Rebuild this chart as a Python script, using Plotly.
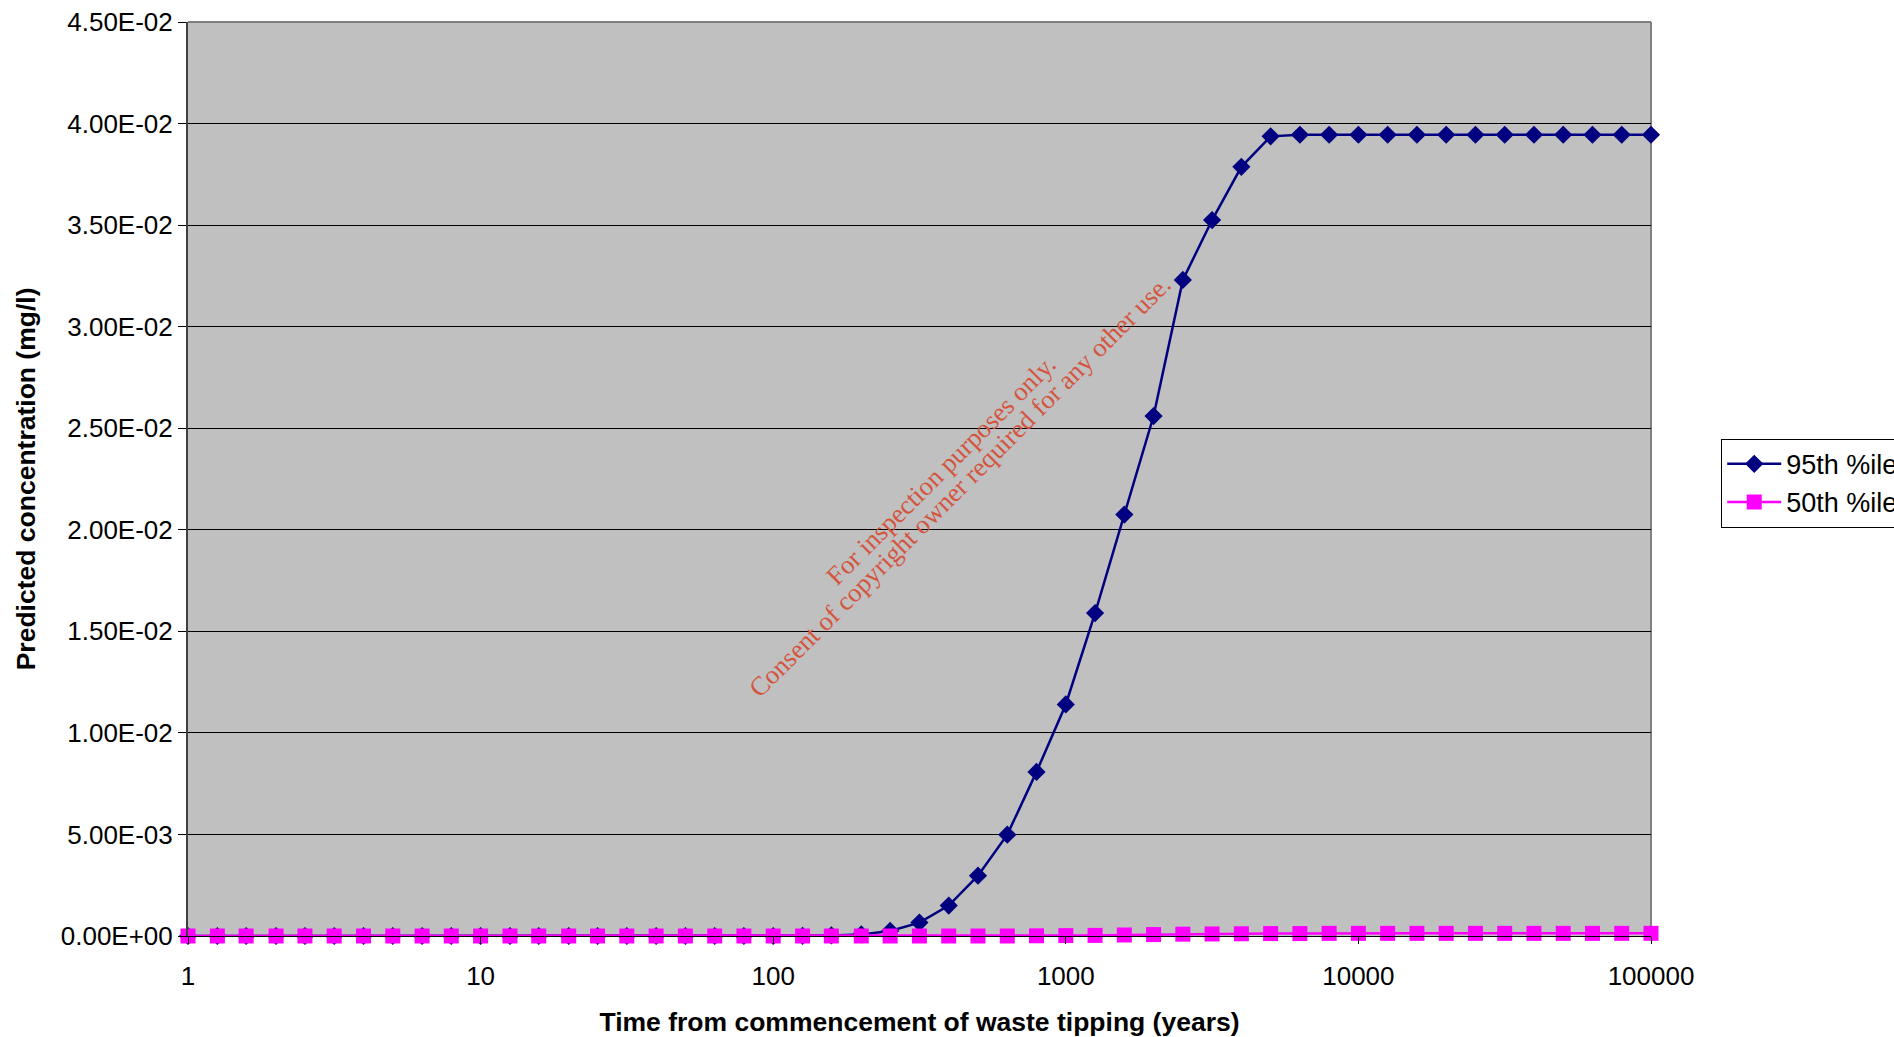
import plotly.graph_objects as go

# Time since commencement of waste tipping (years), log-spaced
years = [1, 1.26, 1.58, 2.0, 2.51, 3.16, 3.98, 5.01, 6.31, 7.94,
         10, 12.6, 15.8, 20.0, 25.1, 31.6, 39.8, 50.1, 63.1, 79.4,
         100, 126, 158, 200, 251, 316, 398, 501, 631, 794,
         1000, 1259, 1585, 1995, 2512, 3162, 3981, 5012, 6310, 7943,
         10000, 12589, 15849, 19953, 25119, 31623, 39811, 50119, 63096, 79433,
         100000]

# Predicted concentration (mg/l), 95th percentile
p95 = [0, 0, 0, 0, 0, 0, 0, 0, 0, 0,
       0, 0, 0, 0, 0, 0, 0, 0, 0, 0,
       0, 0.00001, 0.00003, 0.00008, 0.00025, 0.00066, 0.0015, 0.00297, 0.00499, 0.00808,
       0.0114, 0.0159, 0.02075, 0.0256, 0.0323, 0.03525, 0.03787, 0.03937, 0.03945, 0.03945,
       0.03945, 0.03945, 0.03945, 0.03945, 0.03945, 0.03945, 0.03945, 0.03945, 0.03945, 0.03945,
       0.03945]

# Predicted concentration (mg/l), 50th percentile
p50 = [0, 0, 0, 0, 0, 0, 0, 0, 0, 0,
       0, 0, 0, 0, 0, 0, 0, 0, 0, 0,
       0, 0, 0, 0, 0, 0, 0, 0, 0, 0.00001,
       0.00002, 0.00003, 0.00005, 0.00007, 0.00009, 0.0001, 0.00011, 0.00012, 0.00012, 0.00013,
       0.00013, 0.00013, 0.00013, 0.00013, 0.00013, 0.00013, 0.00013, 0.00013, 0.00013, 0.00013,
       0.00013]

x_ticks = [1, 10, 100, 1000, 10000, 100000]
x_tick_labels = ["1", "10", "100", "1000", "10000", "100000"]
y_ticks = [0, 0.005, 0.01, 0.015, 0.02, 0.025, 0.03, 0.035, 0.04, 0.045]
y_tick_labels = ["0.00E+00", "5.00E-03", "1.00E-02", "1.50E-02", "2.00E-02",
                 "2.50E-02", "3.00E-02", "3.50E-02", "4.00E-02", "4.50E-02"]

SANS = "Liberation Sans, Arial, sans-serif"
SERIF = "Liberation Serif, Times New Roman, serif"
NOTE_RED = "#D4553F"

fig = go.Figure()
fig.add_trace(go.Scatter(
    x=years, y=p95, name="95th %ile", mode="lines+markers",
    line=dict(color="#000080", width=2.5),
    marker=dict(symbol="diamond", size=14, color="#000080"),
    cliponaxis=False,
))
fig.add_trace(go.Scatter(
    x=years, y=p50, name="50th %ile", mode="lines+markers",
    line=dict(color="#FF00FF", width=2.5),
    marker=dict(symbol="square", size=15, color="#FF00FF"),
    cliponaxis=False,
))

fig.update_layout(
    width=1894, height=1037,
    margin=dict(l=188, r=243, t=22, b=101, autoexpand=False),
    paper_bgcolor="white",
    plot_bgcolor="#C0C0C0",
    font=dict(family=SANS, size=26, color="black"),
    showlegend=True,
    legend=dict(
        x=1.048, y=0.544, xanchor="left", yanchor="top",
        bgcolor="white", bordercolor="#000000", borderwidth=1,
        font=dict(family=SANS, size=27, color="black"),
        itemwidth=54, tracegroupgap=0,
    ),
    xaxis=dict(
        type="log", range=[0, 5],
        tickvals=x_ticks, ticktext=x_tick_labels,
        ticks="outside", ticklen=7, tickcolor="black",
        ticklabelstandoff=10,
        showgrid=False, zeroline=False,
        showline=True, linecolor="black", linewidth=1,
        tickfont=dict(family=SANS, size=26),
        title=dict(text="<b>Time from commencement of waste tipping (years)</b>",
                   font=dict(family=SANS, size=26.5), standoff=24),
    ),
    yaxis=dict(
        range=[0, 0.045],
        tickvals=y_ticks, ticktext=y_tick_labels,
        ticks="outside", ticklen=8, tickcolor="black",
        showgrid=True, gridcolor="black", gridwidth=1,
        zeroline=False,
        showline=True, linecolor="#404040", linewidth=2,
        tickfont=dict(family=SANS, size=26),
    ),
)

# y-axis title placed close to the page edge
fig.add_annotation(
    xref="paper", yref="paper", x=-0.1105, y=0.5,
    xanchor="center", yanchor="middle",
    text="<b>Predicted concentration (mg/l)</b>",
    textangle=-90, showarrow=False,
    font=dict(family=SANS, size=26.5, color="black"),
)

# plot-area frame (top and right edges)
fig.add_shape(type="line", xref="paper", yref="paper", x0=0, x1=1, y0=1, y1=1,
              line=dict(color="#808080", width=2), layer="below")
fig.add_shape(type="line", xref="paper", yref="paper", x0=1, x1=1, y0=0, y1=1,
              line=dict(color="#808080", width=2), layer="below")

# diagonal notice text, one line per annotation
fig.add_annotation(
    xref="paper", yref="paper", x=0.5147, y=0.5098,
    xanchor="center", yanchor="middle",
    text="For inspection purposes only.",
    textangle=-45, showarrow=False,
    font=dict(family=SERIF, size=26.5, color=NOTE_RED),
)
fig.add_annotation(
    xref="paper", yref="paper", x=0.5277, y=0.4923,
    xanchor="center", yanchor="middle",
    text="Consent of copyright owner required for any other use.",
    textangle=-45, showarrow=False,
    font=dict(family=SERIF, size=26.5, color=NOTE_RED),
)

fig.write_html("out.html")
